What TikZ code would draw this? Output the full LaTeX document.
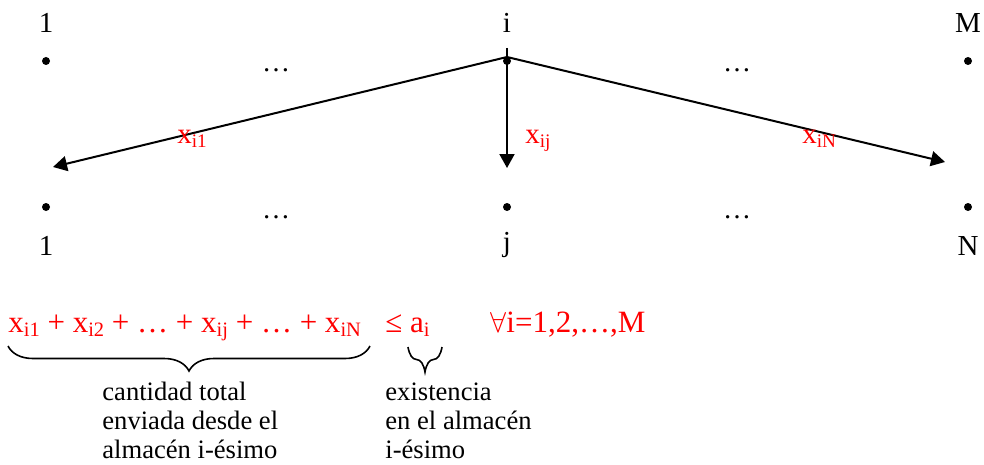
\documentclass[tikz,border=0pt]{standalone}
\usepackage{fontspec}
\setmainfont{Liberation Serif}
\usepackage{graphicx}
\usetikzlibrary{arrows.meta, decorations.pathreplacing}
\newcommand{\sub}[1]{\raisebox{-0.14em}{\scalebox{0.66}{#1}}}

\begin{document}
\begin{tikzpicture}[
    x=0.5pt, y=-0.5pt,
    vertex/.style={circle, fill=black, inner sep=0pt, minimum size=4pt},
    tag/.style={font=\fontsize{14.5}{17}\selectfont, anchor=base, inner sep=0pt},
    dots/.style={font=\fontsize{14}{17}\selectfont, inner sep=0pt},
    edge/.style={draw=black, line width=1pt, -{Triangle[length=7pt,width=7.5pt]}},
    flow/.style={text=red, font=\fontsize{14.5}{17}\selectfont, anchor=base west, inner sep=0pt},
    expr/.style={text=red, font=\fontsize{15.5}{19}\selectfont, anchor=base west, inner sep=0pt},
    note/.style={font=\fontsize{13.3}{14.5}\selectfont, align=left, anchor=base west, inner sep=0pt},
    bracket/.style={draw=black, line width=0.8pt, decorate, decoration={brace, amplitude=12.5pt, mirror}}
]
\useasboundingbox (0,0) rectangle (984,465);

% Origins
\node[vertex] (o1) at (46,61) {};
\node[vertex] (oi) at (507,61) {};
\node[vertex] (oM) at (968,61) {};
\node[tag] (o1lab) at (46,33) {1};
\node[tag] (oilab) at (507,33) {i};
\node[tag] (oMlab) at (968,33) {M};
\node[dots] (odots1) at (276,70) {…};
\node[dots] (odots2) at (737,70) {…};

% Destinations
\node[vertex] (d1) at (46,207) {};
\node[vertex] (dj) at (507,207) {};
\node[vertex] (dN) at (968,207) {};
\node[tag] (d1lab) at (46,255) {1};
\node[tag] (djlab) at (507,251) {j};
\node[tag] (dNlab) at (968,255) {N};
\node[dots] (ddots1) at (276,217) {…};
\node[dots] (ddots2) at (737,217) {…};

% Shipments
\coordinate (src) at (507,57);
\coordinate (srcup) at (507,48);
\coordinate (to1) at (53,167);
\coordinate (toj) at (507,168);
\coordinate (toN) at (945,162);
\draw[edge] (src) -- (to1);
\draw[edge] (srcup) -- (toj);
\draw[edge] (src) -- (toN);
\node[flow] (x1) at (177,143) {x\sub{i1}};
\node[flow] (xj) at (525,143) {x\sub{ij}};
\node[flow] (xN) at (802,143) {x\sub{iN}};

% Supply constraint
\node[expr] (sum) at (8,332) {x\sub{i1} + x\sub{i2} + … + x\sub{ij} + … + x\sub{iN}};
\node[expr] (cap) at (385,332) {≤ a\sub{i}};
\node[expr] (all) at (490,332) {$\forall$i=1,2,…,M};

% Braces
\coordinate (b1l) at (8,346);
\coordinate (b1r) at (370,346);
\coordinate (b2l) at (408,347);
\coordinate (b2r) at (442,347);
\draw[bracket] (b1l) -- (b1r);
\draw[bracket] (b2l) -- (b2r);
\node[note] (n1) at (102,458) {cantidad total\\enviada desde el\\almacén i-ésimo};
\node[note] (n2) at (385,458) {existencia\\en el almacén\\i-ésimo};

\end{tikzpicture}
\end{document}
